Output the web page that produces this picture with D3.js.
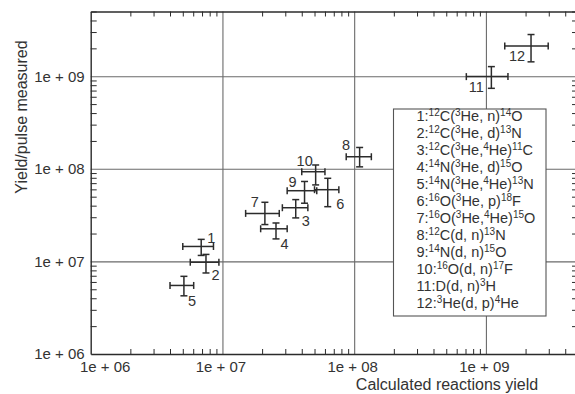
<!DOCTYPE html>
<html>
<head>
<meta charset="utf-8">
<script src="https://cdn.jsdelivr.net/npm/d3@7"></script>
<style>
  html, body { margin: 0; padding: 0; background: #fff; }
  svg { display: block; font-family: "Liberation Sans", Arial, Helvetica, sans-serif; }
</style>
</head>
<body>
<div id="chart"></div>
<script>
// reaction number, calculated yield (x) and measured yield/pulse (y) with error ranges
var ids = [1, 2, 3, 4, 5, 6, 7, 8, 9, 10, 11, 12];
var xVal = [6.9e6, 7.5e6, 3.6e7, 2.55e7, 5.1e6, 6.3e7, 2.1e7, 1.1e8, 4.2e7, 5.1e7, 1.1e9, 2.2e9];
var xLo  = [5.0e6, 5.7e6, 2.85e7, 1.95e7, 4.0e6, 5.0e7, 1.5e7, 8.7e7, 3.1e7, 4.0e7, 7.1e8, 1.39e9];
var xHi  = [8.55e6, 9.4e6, 4.45e7, 3.1e7, 6.05e6, 7.65e7, 2.7e7, 1.35e8, 5.2e7, 6.0e7, 1.47e9, 2.97e9];
var yVal = [1.45e7, 9.8e6, 3.8e7, 2.25e7, 5.5e6, 5.95e7, 3.3e7, 1.35e8, 5.8e7, 9.3e7, 9.9e8, 2.12e9];
var yLo  = [1.16e7, 7.5e6, 2.95e7, 1.75e7, 4.25e6, 3.9e7, 2.5e7, 1.05e8, 4.25e7, 6.7e7, 7.4e8, 1.43e9];
var yHi  = [1.73e7, 1.19e7, 4.65e7, 2.6e7, 6.9e6, 7.9e7, 4.35e7, 1.7e8, 7.3e7, 1.1e8, 1.27e9, 2.82e9];

var majorTicks = [1e6, 1e7, 1e8, 1e9];
var tickLabels = ["1e + 06", "1e + 07", "1e + 08", "1e + 09"];

var legendLines = [
  "1:^{12}C(^{3}He, n)^{14}O",
  "2:^{12}C(^{3}He, d)^{13}N",
  "3:^{12}C(^{3}He,^{4}He)^{11}C",
  "4:^{14}N(^{3}He, d)^{15}O",
  "5:^{14}N(^{3}He,^{4}He)^{13}N",
  "6:^{16}O(^{3}He, p)^{18}F",
  "7:^{16}O(^{3}He,^{4}He)^{15}O",
  "8:^{12}C(d, n)^{13}N",
  "9:^{14}N(d, n)^{15}O",
  "10:^{16}O(d, n)^{17}F",
  "11:D(d, n)^{3}H",
  "12:^{3}He(d, p)^{4}He"
];

// where each point's number sits relative to its centre (px)
var labelDx = [10, 9.5, 10, 8.5, 8, 12.5, -10, -13.5, -12, -11, -15, -14];
var labelDy = [-9, 13, 13, 15, 15, 14, -11, -12, -9, -11, 10.5, 10];

var W = 575, H = 394;
var L = 90.7, R = 578, T = 11.5, B = 354;
var ink = "#2b2b2b", grid = "#6a6a6a", txt = "#333";

var svg = d3.select("#chart").append("svg").attr("width", W).attr("height", H);

var x = d3.scaleLog().domain([1e6, 5e9]).range([L, R]);
var y = d3.scaleLog().domain([1e6, 5e9]).range([B, T]);

var minor = [];
[1e6, 1e7, 1e8, 1e9].forEach(function (d) {
  for (var k = 2; k <= 9; k++) if (d * k <= 5e9) minor.push(d * k);
});

// grid lines at decades
svg.append("g").attr("transform", "translate(0," + B + ")")
  .call(d3.axisBottom(x).tickValues(majorTicks.slice(1)).tickSize(-(B - T)).tickFormat(""))
  .call(function (g) {
    g.select(".domain").remove();
    g.selectAll("line").attr("stroke", grid).attr("stroke-width", 1.1);
  });
svg.append("g").attr("transform", "translate(" + L + ",0)")
  .call(d3.axisLeft(y).tickValues(majorTicks.slice(1)).tickSize(-(R - L)).tickFormat(""))
  .call(function (g) {
    g.select(".domain").remove();
    g.selectAll("line").attr("stroke", grid).attr("stroke-width", 1.1);
  });

// minor ticks on all four sides, pointing inward
function styleMinor(g) {
  g.select(".domain").attr("stroke", ink).attr("stroke-width", 1.4);
  g.selectAll(".tick line").attr("stroke", ink).attr("stroke-width", 1);
}
svg.append("g").attr("transform", "translate(0," + B + ")")
  .call(d3.axisBottom(x).tickValues(minor).tickSize(-5).tickSizeOuter(0).tickFormat(""))
  .call(styleMinor);
svg.append("g").attr("transform", "translate(0," + T + ")")
  .call(d3.axisTop(x).tickValues(minor).tickSize(-5).tickSizeOuter(0).tickFormat(""))
  .call(styleMinor);
svg.append("g").attr("transform", "translate(" + L + ",0)")
  .call(d3.axisLeft(y).tickValues(minor).tickSize(-6).tickSizeOuter(0).tickFormat(""))
  .call(styleMinor);
svg.append("g").attr("transform", "translate(" + R + ",0)")
  .call(d3.axisRight(y).tickValues(minor).tickSize(-6).tickSizeOuter(0).tickFormat(""))
  .call(styleMinor);

// tick labels
var xl = svg.append("g").attr("transform", "translate(0," + B + ")")
  .call(d3.axisBottom(x).tickValues(majorTicks).tickSize(0).tickPadding(7)
    .tickFormat(function (d, i) { return tickLabels[i]; }));
xl.select(".domain").remove();
xl.selectAll("text").attr("font-size", "15px").attr("fill", txt).attr("font-family", null)
  .attr("dx", function (d, i) { return i === 0 ? 14 : -2; });

var yl = svg.append("g").attr("transform", "translate(" + L + ",0)")
  .call(d3.axisLeft(y).tickValues(majorTicks).tickSize(0).tickPadding(6)
    .tickFormat(function (d, i) { return tickLabels[i]; }));
yl.select(".domain").remove();
yl.selectAll("text").attr("font-size", "15px").attr("fill", txt).attr("font-family", null);

// axis titles
svg.append("text").attr("x", 447).attr("y", 384).attr("dy", "0.35em")
  .attr("text-anchor", "middle").attr("font-size", "16px").attr("fill", txt)
  .text("Calculated reactions yield");
svg.append("text").attr("transform", "translate(21,117) rotate(-90)").attr("dy", "0.35em")
  .attr("text-anchor", "middle").attr("font-size", "16px").attr("fill", txt)
  .text("Yield/pulse measured");

// legend box
var lg = svg.append("g");
lg.append("rect").attr("x", 393.5).attr("y", 109).attr("width", 152.5).attr("height", 207)
  .attr("fill", "#fff").attr("stroke", "#555").attr("stroke-width", 1.1);
legendLines.forEach(function (s, i) {
  var t = lg.append("text").attr("x", 416.5).attr("y", 120.7 + i * 17.05).attr("dy", "0.35em")
    .attr("font-size", "14.5px").attr("fill", txt);
  var up = false;
  s.split(/(\^\{[^}]*\})/).forEach(function (part) {
    if (!part) return;
    if (part[0] === "^") {
      t.append("tspan").attr("font-size", "10px").attr("dy", up ? 0 : -5)
        .text(part.slice(2, -1));
      up = true;
    } else {
      t.append("tspan").attr("dy", up ? 5 : 0).text(part);
      up = false;
    }
  });
});

// error bars
var pts = svg.append("g").attr("stroke", ink).attr("stroke-width", 1.5).attr("fill", "none");
var cap = 3.5;
ids.forEach(function (id, i) {
  var cx = x(xVal[i]), cy = y(yVal[i]);
  var g = pts.append("g");
  g.append("line").attr("x1", x(xLo[i])).attr("x2", x(xHi[i])).attr("y1", cy).attr("y2", cy);
  g.append("line").attr("x1", x(xLo[i])).attr("x2", x(xLo[i])).attr("y1", cy - cap).attr("y2", cy + cap);
  g.append("line").attr("x1", x(xHi[i])).attr("x2", x(xHi[i])).attr("y1", cy - cap).attr("y2", cy + cap);
  g.append("line").attr("x1", cx).attr("x2", cx).attr("y1", y(yLo[i])).attr("y2", y(yHi[i]));
  g.append("line").attr("x1", cx - cap).attr("x2", cx + cap).attr("y1", y(yLo[i])).attr("y2", y(yLo[i]));
  g.append("line").attr("x1", cx - cap).attr("x2", cx + cap).attr("y1", y(yHi[i])).attr("y2", y(yHi[i]));
  svg.append("text").attr("x", cx + labelDx[i]).attr("y", cy + labelDy[i]).attr("dy", "0.35em")
    .attr("text-anchor", "middle").attr("font-size", "14.5px").attr("fill", txt)
    .text(id);
});
</script>
</body>
</html>
